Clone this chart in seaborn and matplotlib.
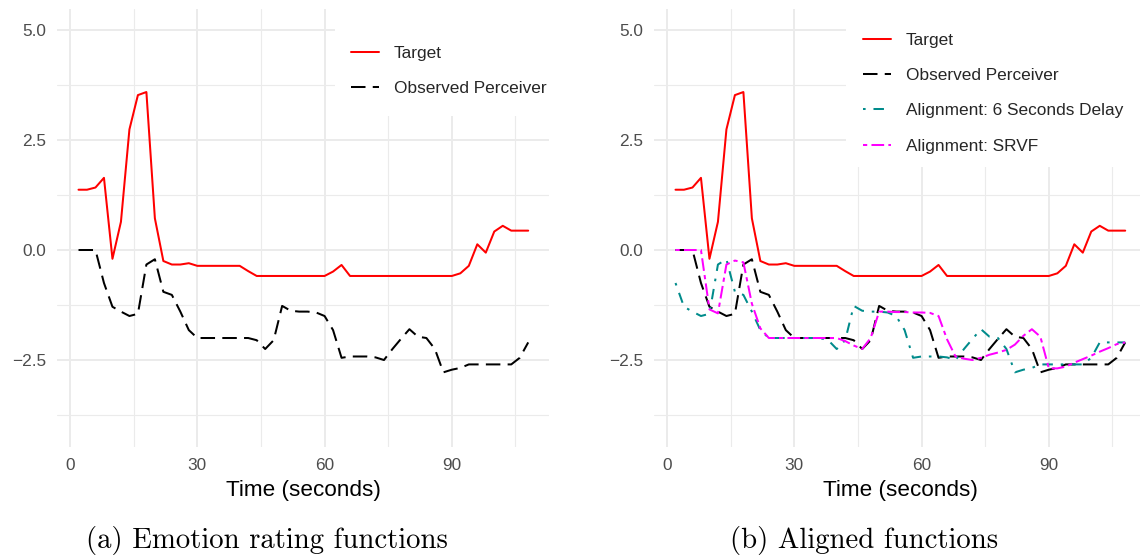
import matplotlib
matplotlib.use("Agg")
import matplotlib.pyplot as plt
import seaborn as sns
import pandas as pd
from matplotlib.patches import Rectangle
from matplotlib.ticker import FixedLocator, FuncFormatter

# ---------------- data ----------------
time = [2, 4, 6, 8, 10, 12, 14, 16, 18, 20, 22, 24, 26, 28, 30, 32, 34, 36,
        38, 40, 42, 44, 46, 48, 50, 52, 54, 56, 58, 60, 62, 64, 66, 68, 70, 72,
        74, 76, 78, 80, 82, 84, 86, 88, 90, 92, 94, 96, 98, 100, 102, 104, 106, 108]

target = [1.37, 1.37, 1.42, 1.64, -0.20, 0.64, 2.74, 3.52, 3.59, 0.72, -0.25, -0.33,
          -0.33, -0.30, -0.36, -0.36, -0.36, -0.36, -0.36, -0.36, -0.48, -0.59,
          -0.59, -0.59, -0.59, -0.59, -0.59, -0.59, -0.59, -0.59, -0.49, -0.34,
          -0.59, -0.59, -0.59, -0.59, -0.59, -0.59, -0.59, -0.59, -0.59, -0.59,
          -0.59, -0.59, -0.59, -0.53, -0.36, 0.13, -0.06, 0.42, 0.55, 0.44, 0.44, 0.44]

observed = [0.00, 0.00, 0.00, -0.75, -1.29, -1.40, -1.50, -1.45, -0.33, -0.21, -0.95, -1.02,
            -1.40, -1.82, -2.00, -2.00, -2.00, -2.00, -2.00, -2.00, -2.00, -2.05,
            -2.25, -2.05, -1.27, -1.38, -1.40, -1.40, -1.42, -1.50, -1.82, -2.45,
            -2.42, -2.42, -2.42, -2.44, -2.50, -2.25, -2.02, -1.80, -1.97, -2.00,
            -2.25, -2.78, -2.72, -2.68, -2.60, -2.60, -2.60, -2.60, -2.60, -2.60, -2.45, -2.10]

delay6 = [-0.75, -1.29, -1.40, -1.50, -1.45, -0.33, -0.21, -0.95, -1.02, -1.40, -1.82, -2.00,
          -2.00, -2.00, -2.00, -2.00, -2.00, -2.00, -2.05, -2.25, -2.05, -1.27,
          -1.38, -1.40, -1.40, -1.42, -1.50, -1.82, -2.45, -2.42, -2.42, -2.42,
          -2.44, -2.50, -2.25, -2.02, -1.80, -1.97, -2.00, -2.25, -2.78, -2.72,
          -2.68, -2.60, -2.60, -2.60, -2.60, -2.60, -2.60, -2.45, -2.10, -2.10, -2.10, -2.10]

srvf = [0.00, 0.00, 0.00, 0.00, -1.35, -1.44, -0.33, -0.24, -0.28, -1.22, -1.78, -2.00,
        -2.00, -2.00, -2.00, -2.00, -2.00, -2.00, -2.00, -2.00, -2.07, -2.17,
        -2.25, -2.00, -1.40, -1.40, -1.41, -1.41, -1.42, -1.42, -1.43, -1.50,
        -2.03, -2.42, -2.47, -2.50, -2.45, -2.38, -2.33, -2.27, -2.15, -1.95,
        -1.80, -1.97, -2.69, -2.69, -2.65, -2.56, -2.48, -2.40, -2.31, -2.23, -2.14, -2.10]

x_ticks = [0, 30, 60, 90]
y_ticks = [-2.5, 0.0, 2.5, 5.0]

# ---------------- style ----------------
sns.set_theme(style="white")
plt.rcParams["font.family"] = ["Liberation Sans", "DejaVu Sans"]

W, H = 1140, 558
fig = plt.figure(figsize=(W / 100, H / 100), dpi=100)


def axes_px(left, top, w, h):
    return fig.add_axes([left / W, 1 - (top + h) / H, w / W, h / H])


LW = 1.45
styles = {
    "Target": dict(color="#FF0000", linestyle="-"),
    "Observed Perceiver": dict(color="black", linestyle=(0, (7.2, 3.6))),
    "Alignment: 6 Seconds Delay": dict(color="#008B8B", linestyle=(0, (1.3, 3.9, 5.2, 3.9))),
    "Alignment: SRVF": dict(color="#FF00FF", linestyle=(0, (2.1, 2.1, 6.3, 2.1))),
}


def style_axes(ax):
    for s in ax.spines.values():
        s.set_visible(False)
    ax.set_facecolor("white")
    ax.set_xlim(-3.07, 112.9)
    ax.set_ylim(-4.47, 5.47)
    ax.xaxis.set_major_locator(FixedLocator(x_ticks))
    ax.xaxis.set_minor_locator(FixedLocator([15, 45, 75, 105]))
    ax.yaxis.set_major_locator(FixedLocator(y_ticks))
    ax.yaxis.set_minor_locator(FixedLocator([-3.75, -1.25, 1.25, 3.75]))
    ax.yaxis.set_major_formatter(FuncFormatter(lambda v, p: f"{v:.1f}".replace("-", "\u2212")))
    ax.set_axisbelow(True)
    ax.grid(which="major", color="#EBEBEB", linewidth=1.4)
    ax.grid(which="minor", color="#EBEBEB", linewidth=0.8)
    ax.tick_params(which="both", length=0)
    ax.tick_params(axis="both", labelsize=12.4, labelcolor="#4D4D4D", pad=8)
    ax.set_xlabel("Time (seconds)", fontsize=16.2, color="black", labelpad=5)
    ax.set_ylabel("")


def draw(ax, series):
    for name, vals in series:
        df = pd.DataFrame({"time": time, "value": vals})
        sns.lineplot(data=df, x="time", y="value", ax=ax, linewidth=LW,
                     label=name, **styles[name])


ax1 = axes_px(57, 9.3, 492, 437.4)
ax2 = axes_px(654, 9.3, 492, 437.4)

draw(ax1, [("Target", target), ("Observed Perceiver", observed)])
draw(ax2, [("Target", target), ("Observed Perceiver", observed),
           ("Alignment: 6 Seconds Delay", delay6), ("Alignment: SRVF", srvf)])

for ax in (ax1, ax2):
    style_axes(ax)

# legend backgrounds (white boxes covering grid like ggplot)
ax1.add_patch(Rectangle((0.566, 0.756), 0.5, 0.3, transform=ax1.transAxes,
                        facecolor="white", edgecolor="none", zorder=1.5))
ax2.add_patch(Rectangle((0.391, 0.64), 0.7, 0.4, transform=ax2.transAxes,
                        facecolor="white", edgecolor="none", zorder=1.5))


def make_legend(ax, x_px, top_px):
    h, l = ax.get_legend_handles_labels()
    ax.legend(h, l, loc="upper left", bbox_to_anchor=(x_px / W, 1 - top_px / H),
              bbox_transform=fig.transFigure, frameon=False, fontsize=12.4,
              handlelength=1.63, handletextpad=0.87, labelspacing=1.17,
              borderpad=0, borderaxespad=0)


make_legend(ax1, 351, 46)
make_legend(ax2, 863, 33)

# captions
fig.text(267 / W, 1 - 540 / H, "(a) Emotion rating functions", family="cmr10",
         fontsize=20.7, ha="center", va="center", color="black")
fig.text(864 / W, 1 - 540 / H, "(b) Aligned functions", family="cmr10",
         fontsize=20.7, ha="center", va="center", color="black")

fig.savefig("out.png", dpi=100)
